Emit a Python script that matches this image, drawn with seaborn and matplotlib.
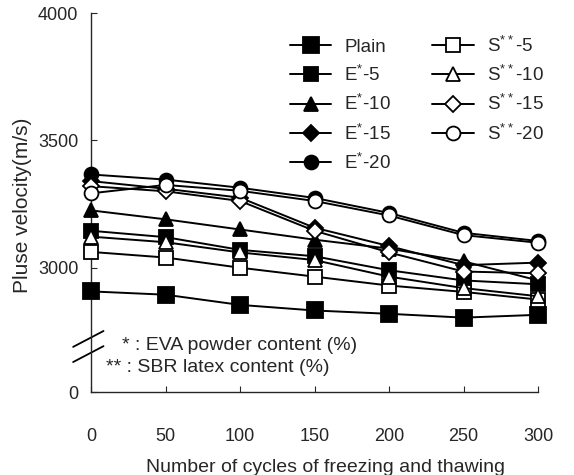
import matplotlib
matplotlib.use('Agg')
import matplotlib.pyplot as plt
import seaborn as sns
import numpy as np
import pandas as pd

# cycles of freezing and thawing
cycles = [0, 50, 100, 150, 200, 250, 300]

# pulse velocity (m/s)
plain = [2907, 2894, 2854, 2832, 2819, 2804, 2815]
e5 = [3145, 3120, 3070, 3045, 2990, 2950, 2935]
e10 = [3225, 3190, 3150, 3110, 3075, 3025, 2950]
e15 = [3340, 3310, 3275, 3157, 3085, 3010, 3020]
e20 = [3366, 3346, 3314, 3274, 3215, 3137, 3105]
s5 = [3062, 3040, 3000, 2965, 2930, 2905, 2875]
s10 = [3122, 3100, 3060, 3030, 2965, 2920, 2888]
s15 = [3320, 3300, 3262, 3145, 3060, 2985, 2978]
s20 = [3292, 3325, 3302, 3262, 3205, 3128, 3098]

labels = ['Plain', 'E$^{*}$-5', 'E$^{*}$-10', 'E$^{*}$-15', 'E$^{*}$-20',
          'S$^{**}$-5', 'S$^{**}$-10', 'S$^{**}$-15', 'S$^{**}$-20']
series = [plain, e5, e10, e15, e20, s5, s10, s15, s20]
markers = ['s', 's', '^', 'D', 'o', 's', '^', 'D', 'o']
filled = [True, True, True, True, True, False, False, False, False]
msizes = [11, 10, 10, 8, 10, 10, 10, 8, 10]

sns.set_style('ticks')
plt.rcParams['font.family'] = ['Liberation Sans', 'DejaVu Sans']
plt.rcParams['mathtext.fontset'] = 'custom'
plt.rcParams['mathtext.rm'] = 'Liberation Sans'

fig = plt.figure(figsize=(5.74, 4.75), dpi=100)
W, H = 574, 475
ax = fig.add_axes([91 / W, 1 - 392 / H, 447 / W, 379 / H])

rows = []
for lab, vals in zip(labels, series):
    for c, v in zip(cycles, vals):
        rows.append({'cycles': c, 'velocity': v, 'mix': lab})
df = pd.DataFrame(rows)

for lab, m, f, ms in zip(labels, markers, filled, msizes):
    sub = df[df['mix'] == lab]
    sns.lineplot(data=sub, x='cycles', y='velocity', ax=ax, color='black',
                 marker=m, markersize=ms, linewidth=1.4,
                 markerfacecolor='black' if f else 'white',
                 markeredgecolor='black', markeredgewidth=1.3,
                 label=lab, clip_on=False, zorder=3)

ybottom = 2512
ax.set_xlim(0, 300)
ax.set_ylim(ybottom, 4000)
ax.set_xticks(cycles)
ax.set_yticks([ybottom, 3000, 3500, 4000])
ax.set_yticklabels(['0', '3000', '3500', '4000'])
ax.tick_params(axis='x', direction='in', length=4, pad=26, labelsize=13)
ax.tick_params(axis='y', direction='in', length=4, pad=9, labelsize=13)
for s in ['top', 'right']:
    ax.spines[s].set_visible(False)
for s in ['left', 'bottom']:
    ax.spines[s].set_linewidth(1.0)

ax.set_xlabel('Number of cycles of freezing and thawing', fontsize=14)
ax.set_ylabel('Pluse velocity(m/s)', fontsize=15)
ax.xaxis.set_label_coords((326 - 91) / 447, (392 - 459) / 379)
ax.yaxis.set_label_coords((32 - 91) / 447, (392 - 205) / 379)

handles, labs = ax.get_legend_handles_labels()
ax.legend(handles, labs, ncol=2, loc='upper left',
          bbox_to_anchor=((290 - 91) / 447, (392 - 35) / 379),
          frameon=False, fontsize=13.5, handlelength=2.2, handletextpad=0.7,
          columnspacing=2.2, labelspacing=0.45, borderpad=0, borderaxespad=0)

# axis break marks
for y0 in [0.079, 0.119]:
    ax.plot([-0.040, 0.028], [y0, y0 + 0.042], color='black', lw=1.3,
            transform=ax.transAxes, clip_on=False)

fig.text(122 / W, 1 - 345 / H, '* : EVA powder content (%)', ha='left', va='center', fontsize=14)
fig.text(106 / W, 1 - 368 / H, '** : SBR latex content (%)', ha='left', va='center', fontsize=14)

fig.savefig('out.png', dpi=100)
